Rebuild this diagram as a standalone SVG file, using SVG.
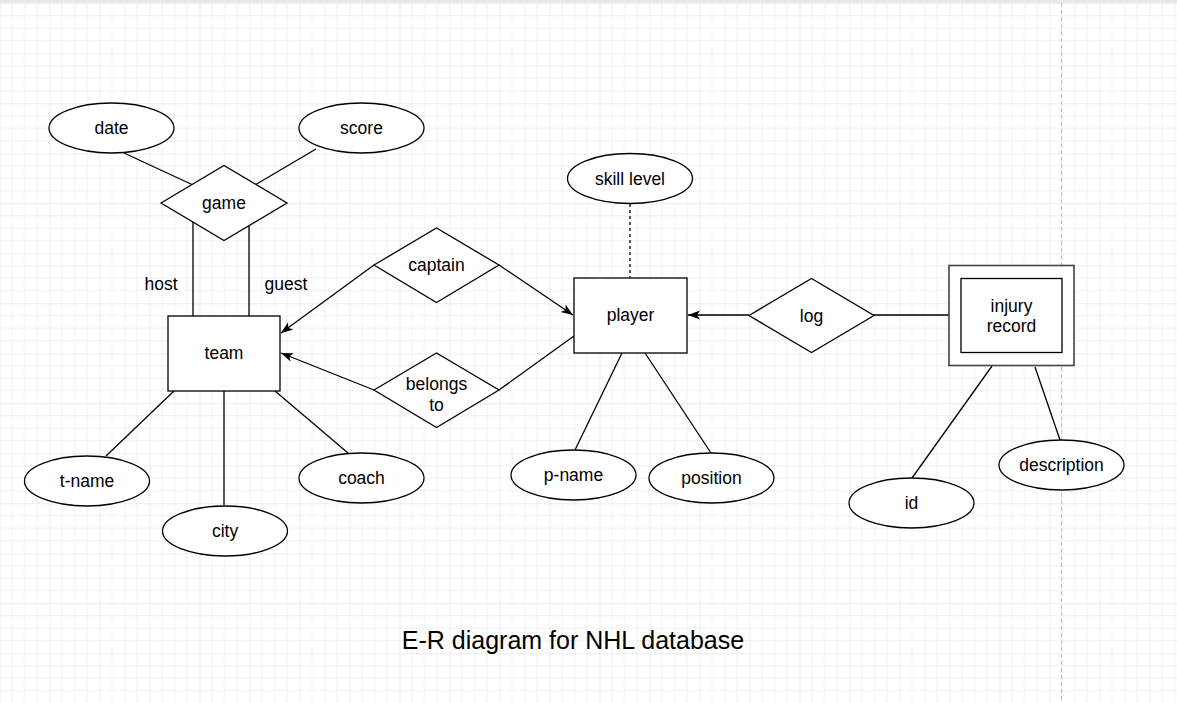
<svg xmlns="http://www.w3.org/2000/svg" width="1177" height="703" viewBox="0 0 1177 703">
<defs>
<pattern id="grid" patternUnits="userSpaceOnUse" x="-0.5" y="3.3" width="50" height="50">
<path d="M12.5,0V50M25,0V50M37.5,0V50M0,12.5H50M0,25H50M0,37.5H50" stroke="#f0f0f0" stroke-width="1" fill="none"/>
<path d="M0,0V50M0,0H50" stroke="#dcdcdc" stroke-width="1" fill="none"/>
</pattern>
<marker id="arr" markerUnits="userSpaceOnUse" markerWidth="12" markerHeight="10" refX="12" refY="4.5" orient="auto">
<path d="M0,0 L12,4.5 L0,9 L3,4.5 z" fill="#000"/>
</marker>
<style>
.s{fill:#fff;stroke:#000;stroke-width:1.3}
.l{stroke:#000;stroke-width:1.3;fill:none}
.t{font-family:"Liberation Sans",Arial,sans-serif;font-size:17.5px;fill:#000;text-anchor:middle}
</style>
</defs>
<rect x="0" y="0" width="1177" height="703" fill="#fff"/>
<rect x="0" y="3" width="1177" height="700" fill="url(#grid)"/>
<rect x="0" y="0" width="1177" height="3" fill="#e8e8e8"/>
<line x1="1061.5" y1="3" x2="1061.5" y2="703" stroke="#c4c4c4" stroke-width="1" stroke-dasharray="4,3"/>

<g id="connectors">
<line class="l" x1="124" y1="153" x2="193" y2="185"/>
<line class="l" x1="316" y1="149" x2="255" y2="185"/>
<line class="l" x1="193" y1="222" x2="193" y2="316"/>
<line class="l" x1="249" y1="226" x2="249" y2="316"/>
<line class="l" x1="174" y1="391" x2="106" y2="456"/>
<line class="l" x1="224" y1="391" x2="224" y2="505"/>
<line class="l" x1="275" y1="391" x2="348" y2="453"/>
<line class="l" x1="374" y1="265" x2="281" y2="333" marker-end="url(#arr)"/>
<line class="l" x1="499" y1="265" x2="573" y2="315" marker-end="url(#arr)"/>
<line class="l" x1="374" y1="390" x2="281" y2="353" marker-end="url(#arr)"/>
<line class="l" x1="499" y1="390" x2="574" y2="336"/>
<line class="l" x1="630" y1="204" x2="630" y2="278" stroke-dasharray="3,3"/>
<line class="l" x1="749" y1="315" x2="688" y2="315" marker-end="url(#arr)"/>
<line class="l" x1="873" y1="315" x2="949" y2="315"/>
<line class="l" x1="622" y1="353" x2="575" y2="450"/>
<line class="l" x1="645" y1="353" x2="711" y2="453"/>
<line class="l" x1="992" y1="366" x2="912" y2="478"/>
<line class="l" x1="1035" y1="367" x2="1060" y2="440"/>
</g>

<g id="date"><ellipse class="s" cx="111.5" cy="128" rx="62.5" ry="25"/><text class="t" x="111.5" y="134">date</text></g>
<g id="score"><ellipse class="s" cx="361.5" cy="128" rx="62.5" ry="25"/><text class="t" x="361.5" y="134">score</text></g>
<g id="game"><polygon class="s" points="161,203 224,165.5 287,203 224,240.5"/><text class="t" x="224" y="209">game</text></g>
<g id="host"><text class="t" x="161" y="290">host</text></g>
<g id="guest"><text class="t" x="286" y="290">guest</text></g>
<g id="team"><rect class="s" x="168" y="316" width="112" height="75"/><text class="t" x="224" y="359">team</text></g>
<g id="t-name"><ellipse class="s" cx="87" cy="481" rx="62.5" ry="25"/><text class="t" x="87" y="487">t-name</text></g>
<g id="city"><ellipse class="s" cx="225" cy="531" rx="62.5" ry="25"/><text class="t" x="225" y="537">city</text></g>
<g id="coach"><ellipse class="s" cx="361.5" cy="478" rx="62.5" ry="25"/><text class="t" x="361.5" y="484">coach</text></g>
<g id="captain"><polygon class="s" points="374,265 436.5,228 499,265 436.5,302.5"/><text class="t" x="436.5" y="271">captain</text></g>
<g id="belongs-to"><polygon class="s" points="374,390 436.5,353 499,390 436.5,427.5"/><text class="t" x="436.5" y="389.5">belongs</text><text class="t" x="436.5" y="410.5">to</text></g>
<g id="player"><rect class="s" x="574" y="278" width="113" height="75"/><text class="t" x="630.5" y="321">player</text></g>
<g id="skill-level"><ellipse class="s" cx="630" cy="178.5" rx="62.5" ry="25"/><text class="t" x="630" y="184.5">skill level</text></g>
<g id="log"><polygon class="s" points="749,315.5 811.5,278.5 874,315.5 811.5,352.5"/><text class="t" x="811.5" y="321.5">log</text></g>
<g id="injury-record"><rect x="949" y="265.5" width="125" height="100" fill="#fff" stroke="#444" stroke-width="1.6"/><rect class="s" x="961" y="278.5" width="101" height="74"/><text class="t" x="1011.5" y="312">injury</text><text class="t" x="1011.5" y="332">record</text></g>
<g id="p-name"><ellipse class="s" cx="573.5" cy="475" rx="62.5" ry="25"/><text class="t" x="573.5" y="481">p-name</text></g>
<g id="position"><ellipse class="s" cx="711.5" cy="478" rx="62.5" ry="25"/><text class="t" x="711.5" y="484">position</text></g>
<g id="id"><ellipse class="s" cx="911.5" cy="503" rx="62.5" ry="25"/><text class="t" x="911.5" y="509">id</text></g>
<g id="description"><ellipse class="s" cx="1061.5" cy="465" rx="62.5" ry="25"/><text class="t" x="1061.5" y="471">description</text></g>
<g id="title"><text x="573" y="649" style="font-family:'Liberation Sans',Arial,sans-serif;font-size:25px;fill:#000;text-anchor:middle">E-R diagram for NHL database</text></g>
</svg>
